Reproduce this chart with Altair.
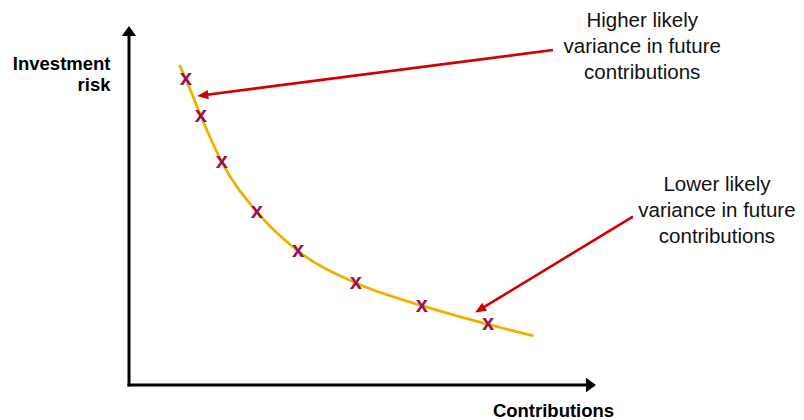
import math
import altair as alt
import pandas as pd

# Investment risk against contribution level (relative units, 0-100 on both axes)
curve_x = [10.8, 12.2, 15.4, 19.9, 27.4, 36.2, 48.6, 62.7, 76.9, 86.6]
curve_y = [89.1, 85.1, 74.9, 62.0, 48.2, 37.3, 28.4, 22.1, 16.9, 13.7]

# Marked strategies along the curve
point_x = [12.2, 15.4, 19.9, 27.4, 36.2, 48.6, 62.7, 76.9]
point_y = [85.1, 74.9, 62.0, 48.2, 37.3, 28.4, 22.1, 16.9]

# Callout arrows: tail (x, y) -> head (x2, y2)
arrow_x = [90.8, 107.9]
arrow_y = [93.3, 46.9]
arrow_x2 = [14.6, 74.1]
arrow_y2 = [80.5, 20.2]

# Callout text, anchored at the first line's baseline centre
note_x = [109.9, 125.9]
note_y = [99.7, 54.0]
note_text = [
    "Higher likely\nvariance in future\ncontributions",
    "Lower likely\nvariance in future\ncontributions",
]

W, H = 467, 359
PX, PY = W / 100.0, H / 100.0
FONT = "Liberation Sans"

xs = alt.Scale(domain=[0, 100], nice=False, zero=False)
ys = alt.Scale(domain=[0, 100], nice=False, zero=False)

# shaft ends a little short of the head, head angle follows the shaft
shaft_rows, head_rows = [], []
for x, y, x2, y2 in zip(arrow_x, arrow_y, arrow_x2, arrow_y2):
    dx = (x2 - x) * PX
    dy = -(y2 - y) * PY
    L = math.hypot(dx, dy)
    ux, uy = dx / L, dy / L
    back = 6.0
    shaft_rows.append({"x": x, "y": y, "x2": x2 - ux * back / PX, "y2": y2 + uy * back / PY})
    ang = math.degrees(math.atan2(dx, -dy)) % 360
    head_rows.append({"x": x2, "y": y2, "angle": ang})

curve_df = pd.DataFrame({"x": curve_x, "y": curve_y, "order": list(range(len(curve_x)))})
points_df = pd.DataFrame({"x": point_x, "y": point_y})
shaft_df = pd.DataFrame(shaft_rows)
head_df = pd.DataFrame(head_rows)
note_df = pd.DataFrame({"x": note_x, "y": note_y, "text": note_text})

# axis lines (origin to just below the arrow tips) and arrow tips
axis_df = pd.DataFrame({"x": [0, 0], "y": [0, 0], "x2": [0, 98], "y2": [97, 0]})
axis_head_df = pd.DataFrame({"x": [0, 100], "y": [100, 0], "angle": [0, 90]})

HEAD_PATH = "M0,0 L0.42,1 L-0.42,1 Z"
AXIS_HEAD_PATH = "M0,0 L0.72,1 L-0.72,1 Z"

X = alt.X("x:Q", scale=xs)
Y = alt.Y("y:Q", scale=ys)

curve = alt.Chart(curve_df).mark_line(
    color="#F0B000", strokeWidth=2.8, interpolate="monotone"
).encode(
    x=alt.X("x:Q", scale=xs, axis=alt.Axis(
        title="Contributions", domain=False, ticks=False, labels=False, grid=False,
        titleFont=FONT, titleFontSize=18.5, titleFontWeight="bold", titleColor="#000000",
        titleX=424, titleY=31, titleAlign="center", titleBaseline="alphabetic", titlePadding=0,
    )),
    y=alt.Y("y:Q", scale=ys, axis=alt.Axis(
        title=["Investment", "risk"], domain=False, ticks=False, labels=False, grid=False,
        titleFont=FONT, titleFontSize=18.5, titleFontWeight="bold", titleColor="#000000",
        titleAngle=0, titleX=-19, titleY=43, titleAlign="right", titleBaseline="alphabetic",
        titleLineHeight=21, titlePadding=0,
    )),
    order="order:Q",
)

markers = alt.Chart(points_df).mark_text(
    text="x", font=FONT, fontWeight="bold", fontSize=22, color="#990F55",
    baseline="middle", align="center", dy=-1,
).encode(x=X, y=Y)

axis_lines = alt.Chart(axis_df).mark_rule(
    color="#000000", strokeWidth=3, strokeCap="square"
).encode(x=X, y=Y, x2="x2:Q", y2="y2:Q")

axis_heads = alt.Chart(axis_head_df).mark_point(
    shape=AXIS_HEAD_PATH, filled=True, size=400, color="#000000", opacity=1, strokeWidth=0
).encode(x=X, y=Y, angle=alt.Angle("angle:Q", scale=None))

shafts = alt.Chart(shaft_df).mark_rule(
    color="#D00000", strokeWidth=2.6
).encode(x=X, y=Y, x2="x2:Q", y2="y2:Q")

heads = alt.Chart(head_df).mark_point(
    shape=HEAD_PATH, filled=True, size=500, color="#D00000", opacity=1, strokeWidth=0
).encode(x=X, y=Y, angle=alt.Angle("angle:Q", scale=None))

notes = alt.Chart(note_df).mark_text(
    font=FONT, fontSize=20.5, color="#111111", align="center",
    baseline="alphabetic", lineBreak="\n", lineHeight=26,
).encode(x=X, y=Y, text="text:N")

chart = alt.layer(
    curve, axis_lines, axis_heads, markers, shafts, heads, notes
).properties(
    width=W,
    height=H,
    autosize=alt.AutoSizeParams(type="none"),
    padding={"left": 129, "top": 26, "right": 804 - 129 - W, "bottom": 420 - 26 - H},
    background="#ffffff",
).configure_view(strokeWidth=0)

chart.save("out.html", embed_options={"renderer": "svg", "actions": False})
